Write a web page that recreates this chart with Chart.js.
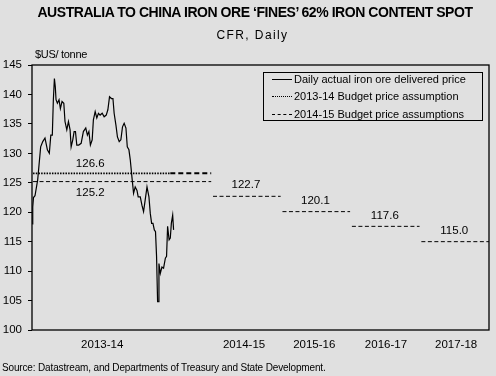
<!DOCTYPE html>
<html>
<head>
<meta charset="utf-8">
<script src="https://cdn.jsdelivr.net/npm/chart.js@4.4.1/dist/chart.umd.min.js"></script>
<style>
  body { margin: 0; background: #e0e0e0; font-family: "Liberation Sans", Arial, sans-serif; }
  #wrap { position: relative; width: 496px; height: 376px; overflow: hidden; }
  canvas { position: absolute; left: 0; top: 0; }
  .txt { position: absolute; white-space: nowrap; color: #000; }
  #title { left: 0; width: 510px; top: 4px; text-align: center; font-weight: bold; font-size: 14px; letter-spacing: -0.45px; }
  #subtitle { left: 0; width: 505px; top: 28px; text-align: center; font-size: 12px; letter-spacing: 1.4px; }
  #unit { left: 35px; top: 48px; font-size: 11px; letter-spacing: -0.3px; }
  #source { left: 2px; top: 362px; font-size: 10px; letter-spacing: -0.15px; }
  #legend { position: absolute; left: 263px; top: 72px; width: 220px; height: 49px; border: 1px solid #000; box-sizing: border-box; font-size: 11px; }
  .row { position: absolute; left: 8px; height: 14px; line-height: 14px; }
  .sample { display: inline-block; width: 20px; vertical-align: middle; margin-right: 2px; position: relative; top: -1px; }
</style>
</head>
<body>
<div id="wrap">
  <canvas id="grafico" width="496" height="376"></canvas>
  <div class="txt" id="title">AUSTRALIA TO CHINA IRON ORE ‘FINES’ 62% IRON CONTENT SPOT</div>
  <div class="txt" id="subtitle">CFR, Daily</div>
  <div class="txt" id="unit">$US/ tonne</div>
  <div class="txt" id="source">Source: Datastream, and Departments of Treasury and State Development.</div>
  <div id="legend">
    <div class="row" style="top:-1px"><span class="sample" style="border-top:1.5px solid #000"></span>Daily actual iron ore delivered price</div>
    <div class="row" style="top:16px"><span class="sample" style="border-top:1.5px dotted #000"></span>2013-14 Budget price assumption</div>
    <div class="row" style="top:34px"><span class="sample" style="border-top:1px dashed #000"></span>2014-15 Budget price assumptions</div>
  </div>
</div>
<script>
// months since 1 July 2013 and daily price, $US/tonne
const priceMonths = [
  0.02, 0.05, 0.10, 0.20, 0.38, 0.47, 0.58, 0.72, 0.87, 1.03,
  1.16, 1.26, 1.36, 1.43, 1.50, 1.56, 1.61, 1.70, 1.81, 1.90,
  2.01, 2.13, 2.21, 2.33, 2.44, 2.55, 2.62, 2.73, 2.82, 2.91,
  3.00, 3.13, 3.29, 3.44, 3.60, 3.71, 3.81, 3.91, 4.03, 4.11,
  4.23, 4.34, 4.45, 4.56, 4.70, 4.83, 4.97, 5.08, 5.19, 5.32,
  5.42, 5.50, 5.62, 5.72, 5.84, 5.95, 6.06, 6.17, 6.29, 6.38,
  6.49, 6.58, 6.69, 6.80, 6.91, 7.03, 7.11, 7.25, 7.36, 7.47,
  7.58, 7.70, 7.83, 7.92, 8.01, 8.10, 8.19, 8.27, 8.34, 8.41,
  8.46, 8.50, 8.59, 8.70, 8.81, 8.93, 9.01, 9.08, 9.18, 9.26,
  9.33, 9.42, 9.48,
];
const priceValues = [
  118.0, 120.9, 122.5, 122.8, 125.5, 128.0, 131.1, 132.0, 132.6, 130.6,
  130.0, 133.1, 133.1, 139.1, 142.7, 141.3, 139.1, 138.5, 139.1, 137.6,
  138.8, 138.5, 135.4, 134.0, 135.4, 134.0, 131.1, 132.3, 133.7, 133.7,
  131.4, 131.4, 131.7, 133.7, 134.3, 133.1, 133.7, 131.4, 132.3, 135.7,
  137.1, 136.0, 136.8, 136.5, 136.8, 136.2, 136.5, 137.4, 139.6, 139.3,
  139.3, 136.8, 134.8, 132.8, 132.0, 132.3, 134.5, 135.1, 134.3, 131.1,
  130.6, 128.9, 126.0, 123.2, 124.3, 123.7, 122.6, 122.6, 121.2, 120.1,
  122.1, 124.3, 122.6, 119.8, 118.1, 118.1, 117.0, 116.7, 112.5, 104.8,
  104.8, 111.3, 109.6, 110.7, 110.5, 112.2, 112.5, 117.6, 115.3, 115.6,
  118.1, 119.5, 117.0,
];

// axis: 2013-14 shown month by month, later years compressed
const yearBounds = [0, 12, 16.65, 21.3, 25.95, 30.6];
const tickYears = ["2013-14", "2014-15", "2015-16", "2016-17", "2017-18"];
const tickMonths = [4.7, 14.2, 18.9, 23.7, 28.4];

const budget1314Value = 126.6;
const budget1314Observed = 9.26; // dotted until here, then dashed
const current1314Value = 125.2;
const forecastYears = ["2014-15", "2015-16", "2016-17", "2017-18"];
const forecastValues = [122.7, 120.1, 117.6, 115.0];

const yTicks = [100, 105, 110, 115, 120, 125, 130, 135, 140, 145];

const FONTE = '"Liberation Sans", Arial, sans-serif';

// 2014-15 budget line: 2013-14 estimate then one segment per year
const budget1415 = [
  { x: 0.07, y: current1314Value },
  { x: yearBounds[1], y: current1314Value },
  { x: yearBounds[1] + 0.05, y: null },
];
forecastValues.forEach((v, i) => {
  budget1415.push({ x: yearBounds[i + 1] + 0.12, y: v });
  budget1415.push({ x: yearBounds[i + 2], y: v });
  budget1415.push({ x: yearBounds[i + 2] + 0.05, y: null });
});

const rotulos = {
  id: "rotulos",
  afterDatasetsDraw(chart) {
    const { ctx, scales } = chart;
    const sx = scales.x;
    const sy = scales.y;
    ctx.save();
    ctx.fillStyle = "#000";
    ctx.font = "11.5px " + FONTE;
    ctx.textAlign = "center";
    ctx.textBaseline = "middle";
    ctx.fillText(budget1314Value.toFixed(1), sx.getPixelForValue(3.9), sy.getPixelForValue(budget1314Value) - 10);
    ctx.fillText(current1314Value.toFixed(1), sx.getPixelForValue(3.9), sy.getPixelForValue(current1314Value) + 11);
    forecastValues.forEach((v, i) => {
      const meio = (yearBounds[i + 1] + yearBounds[i + 2]) / 2;
      ctx.fillText(v.toFixed(1), sx.getPixelForValue(meio), sy.getPixelForValue(v) - 11);
    });
    // plot frame
    const a = chart.chartArea;
    ctx.strokeStyle = "#000";
    ctx.lineWidth = 1.3;
    ctx.strokeRect(a.left, a.top, a.right - a.left, a.bottom - a.top);
    ctx.restore();
  },
};

const ctx = document.getElementById("grafico").getContext("2d");
new Chart(ctx, {
  type: "line",
  data: {
    datasets: [
      {
        label: "Daily actual iron ore delivered price",
        data: priceMonths.map((m, i) => ({ x: m, y: priceValues[i] })),
        borderColor: "#000",
        borderWidth: 1.2,
        pointRadius: 0,
        tension: 0,
      },
      {
        label: "2013-14 Budget price assumption",
        data: [
          { x: 0.07, y: budget1314Value },
          { x: budget1314Observed, y: budget1314Value },
        ],
        borderColor: "#000",
        borderWidth: 1.6,
        borderDash: [1.5, 1.2],
        pointRadius: 0,
      },
      {
        label: "2013-14 Budget price assumption (rest of year)",
        data: [
          { x: budget1314Observed, y: budget1314Value },
          { x: yearBounds[1], y: budget1314Value },
        ],
        borderColor: "#000",
        borderWidth: 2,
        borderDash: [5, 3],
        pointRadius: 0,
      },
      {
        label: "2014-15 Budget price assumptions",
        data: budget1415,
        borderColor: "#000",
        borderWidth: 1,
        borderDash: [4, 2.5],
        pointRadius: 0,
        spanGaps: false,
      },
    ],
  },
  options: {
    responsive: false,
    animation: false,
    layout: { padding: { left: 0, top: 65, right: 7, bottom: 0 } },
    plugins: {
      legend: { display: false },
      tooltip: { enabled: false },
    },
    scales: {
      x: {
        type: "linear",
        min: yearBounds[0],
        max: yearBounds[yearBounds.length - 1],
        grid: { display: false, drawTicks: false },
        border: { display: false },
        afterBuildTicks(scale) {
          scale.ticks = tickMonths.map((v) => ({ value: v }));
        },
        afterFit(scale) {
          scale.height = 46;
        },
        ticks: {
          autoSkip: false,
          maxRotation: 0,
          padding: 8,
          color: "#000",
          font: { family: FONTE, size: 11.5 },
          callback: (v) => tickYears[tickMonths.indexOf(v)],
        },
      },
      y: {
        min: 100,
        max: 145,
        afterBuildTicks(scale) {
          scale.ticks = yTicks.map((v) => ({ value: v }));
        },
        afterFit(scale) {
          scale.width = 32;
        },
        grid: { drawOnChartArea: false, tickLength: 4, color: "#000", lineWidth: 1 },
        border: { display: false },
        ticks: {
          padding: 6,
          color: "#000",
          font: { family: FONTE, size: 11.5 },
        },
      },
    },
  },
  plugins: [rotulos],
});
</script>
</body>
</html>
